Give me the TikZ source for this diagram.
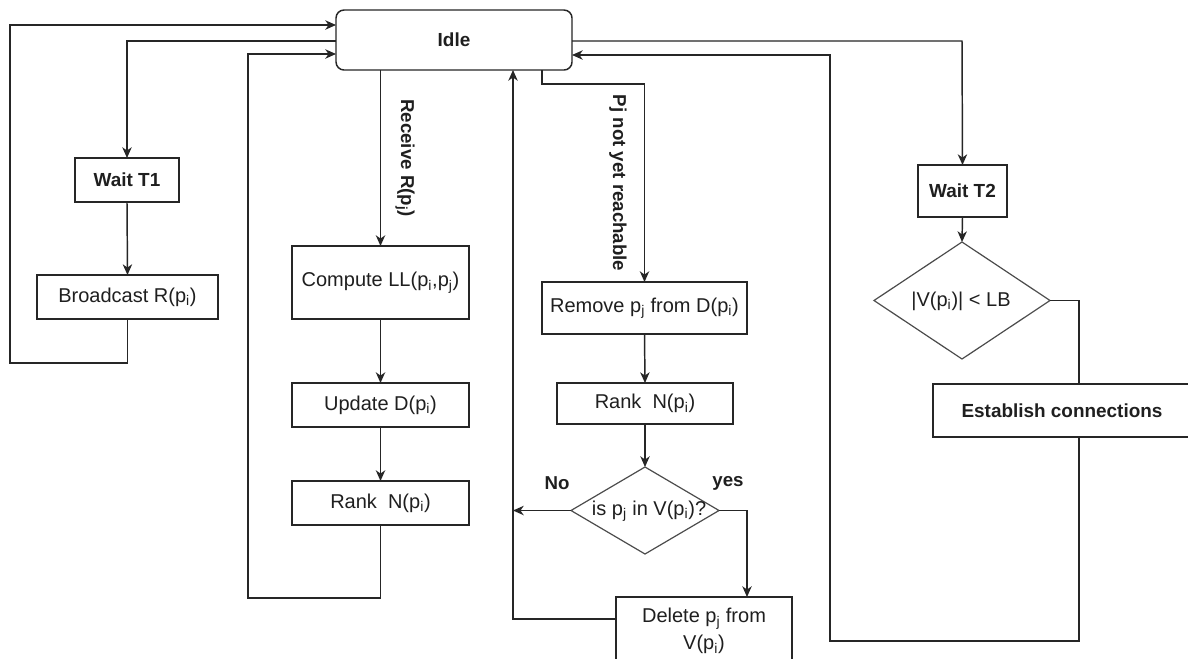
\documentclass[tikz,border=0pt]{standalone}
\usepackage{fontspec}
\setmainfont{Liberation Sans}
\usetikzlibrary{shapes.geometric,arrows.meta,calc}
\newcommand\pxu[1]{#1*0.75pt}
\begin{document}
\begin{tikzpicture}[x=0.75pt,y=-0.75pt,
  every node/.style={inner sep=0pt,outer sep=0pt,text=black!88},
  ln/.style={draw=black!85,line width=1.1pt},
  arr/.style={ln,-{Stealth[length=8pt,width=7pt,inset=2.4pt]}},
  box/.style={rectangle,draw=black!85,line width=1.1pt,font=\fontsize{15}{18}\selectfont,align=center},
  bbox/.style={box,font=\fontsize{14.2}{17}\selectfont\bfseries},
  dia/.style={diamond,draw=black!70,line width=0.9pt},
  txt/.style={font=\fontsize{15}{18}\selectfont},
  lbl/.style={font=\fontsize{14}{17}\selectfont\bfseries}
]
\useasboundingbox (0,0) rectangle (1188,658);
\clip (0,0) rectangle (1188,658);
\fill[white] (0,0) rectangle (1188,658);

% nodes
\node[bbox,rounded corners=\pxu{8},minimum width=\pxu{236},minimum height=\pxu{60}] (idle) at (454,40) {Idle};
\node[bbox,minimum width=\pxu{104},minimum height=\pxu{44}] (wt1) at (127,180) {Wait T1};
\node[box,minimum width=\pxu{181},minimum height=\pxu{44}] (bc) at (127.5,297) {Broadcast R(p\textsubscript{i})};
\node[box,minimum width=\pxu{177},minimum height=\pxu{73}] (cll) at (380.5,282.5) {Compute LL(p\textsubscript{i},p\textsubscript{j})};
\node[box,minimum width=\pxu{177},minimum height=\pxu{44}] (upd) at (380.5,405) {Update D(p\textsubscript{i})};
\node[box,minimum width=\pxu{177},minimum height=\pxu{44}] (rk1) at (380.5,503) {Rank\ \ N(p\textsubscript{i})};
\node[box,minimum width=\pxu{205},minimum height=\pxu{52}] (rem) at (644.5,308) {Remove p\textsubscript{j} from D(p\textsubscript{i})};
\node[box,minimum width=\pxu{176},minimum height=\pxu{41}] (rk2) at (645,403.5) {Rank\ \ N(p\textsubscript{i})};
\node[dia,minimum width=\pxu{148},minimum height=\pxu{87}] (dec) at (645,510.5) {};
\node[txt] (dect) at (649,511) {is p\textsubscript{j} in V(p\textsubscript{i})?};
\node[box,minimum width=\pxu{176},minimum height=\pxu{68},font=\fontsize{15}{20}\selectfont] (del) at (704,631) {Delete p\textsubscript{j} from\\V(p\textsubscript{i})};
\node[bbox,minimum width=\pxu{89},minimum height=\pxu{52}] (wt2) at (962.5,191) {Wait T2};
\node[dia,minimum width=\pxu{176},minimum height=\pxu{117}] (dec2) at (962,300.5) {};
\node[txt] (dec2t) at (961,301) {|V(p\textsubscript{i})| < LB};
\node[bbox,minimum width=\pxu{258},minimum height=\pxu{53}] (est) at (1062,410.5) {Establish connections};

% labels
\node[lbl,rotate=-90] (lrec) at (405,158) {Receive R(p\textsubscript{j})};
\node[lbl,rotate=-90] (lpj) at (618,183) {Pj not yet reachable};
\node[lbl] (lno) at (557,483) {No};
\node[lbl] (lyes) at (728,483) {yes};

% coordinates
\coordinate (c1) at (10,25);
\coordinate (c1b) at (10,363);
\coordinate (c2) at (127,41);
\coordinate (c3) at (248,598);
\coordinate (c3t) at (248,54);
\coordinate (c4) at (542,84);
\coordinate (c5) at (513,510.5);
\coordinate (c6) at (747,510.5);
\coordinate (c7) at (513,619);
\coordinate (c8) at (962,41);
\coordinate (c9) at (1079,300.5);
\coordinate (c10) at (1079,641);
\coordinate (c11) at (830,641);
\coordinate (c12) at (830,55);

% connectors
\draw[arr] (bc.south) |- (c1b) -- (c1) -- (c1 -| idle.west);
\draw[arr] (c2 -| idle.west) -- (c2) -- (wt1.north);
\draw[arr] (wt1.south) -- (bc.north);
\draw[arr] (idle.south -| cll.north) -- (cll.north);
\draw[arr] (cll.south) -- (upd.north);
\draw[arr] (upd.south) -- (rk1.north);
\draw[arr] (rk1.south) |- (c3) -- (c3t) -- (c3t -| idle.west);
\draw[arr] (c4 |- idle.south) -- (c4) -| (rem.north);
\draw[arr] (rem.south) -- (rk2.north);
\draw[arr] (rk2.south) -- (dec.north);
\draw[arr] (dec.west) -- (c5);
\draw[arr] (dec.east) -- (c6) -- (c6 |- del.north);
\draw[arr] (c7 -| del.west) -- (c7) -- (c7 |- idle.south);
\draw[arr] (c8 -| idle.east) -- (c8) -- (wt2.north);
\draw[arr] (wt2.south) -- (dec2.north);
\draw[ln] (dec2.east) -- (c9) -- (c9 |- est.north);
\draw[arr] (c10 |- est.south) -- (c10) -- (c11) -- (c12) -- (c12 -| idle.east);
\end{tikzpicture}
\end{document}
